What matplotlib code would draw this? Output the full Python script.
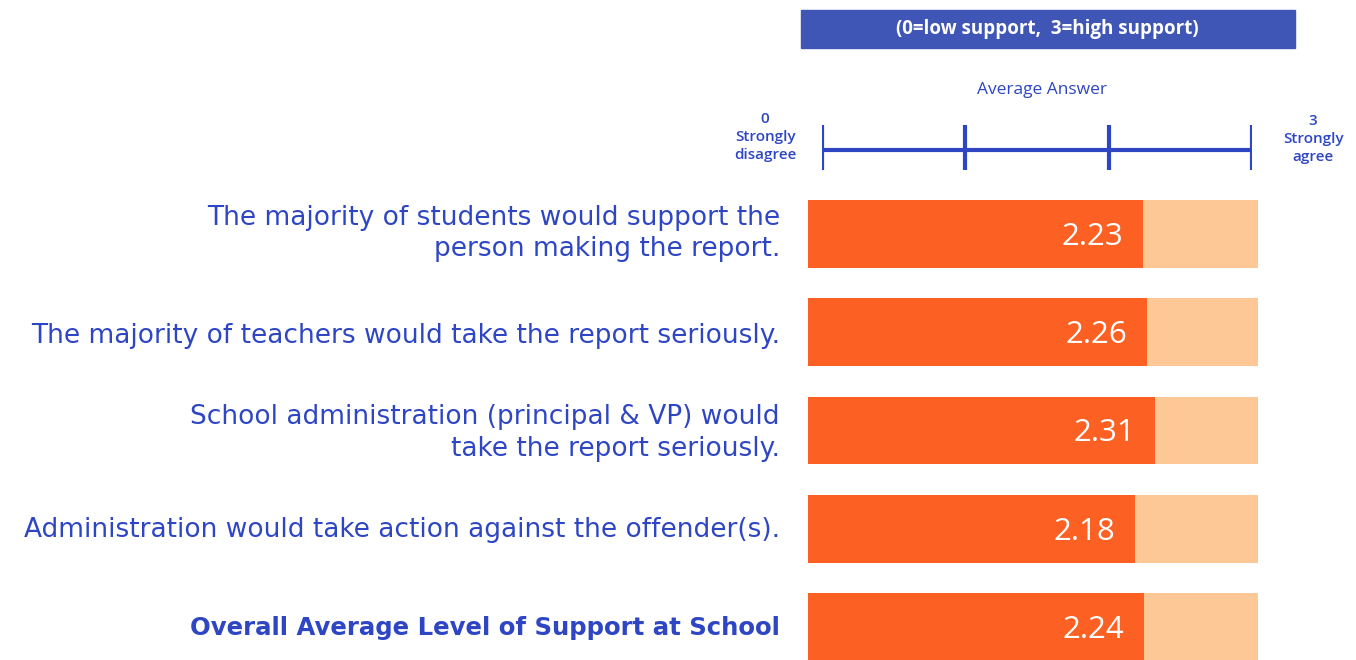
import matplotlib
matplotlib.use("Agg")
import matplotlib.pyplot as plt
from matplotlib.patches import Rectangle

plt.rcParams["font.family"] = ["Open Sans", "DejaVu Sans"]

W, H = 1356, 660
BLUE = "#2E46C4"
BOX_BLUE = "#4056B6"
DARK = "#FC6022"
LIGHT = "#FEC896"

statements = [
    "The majority of students would support the\nperson making the report.",
    "The majority of teachers would take the report seriously.",
    "School administration (principal & VP) would\ntake the report seriously.",
    "Administration would take action against the offender(s).",
    "Overall Average Level of Support at School",
]
averages = [2.23, 2.26, 2.31, 2.18, 2.24]
scale_max = 3
scale_ticks = [0, 1, 2, 3]


def fx(px):
    return px / W


def fy(py):
    return 1 - py / H


fig = plt.figure(figsize=(W / 100, H / 100), dpi=100)

# bars
ax = fig.add_axes([fx(808), 0, fx(1258) - fx(808), 476 / H])
ypos = list(range(len(averages)))
ax.barh(ypos, [scale_max] * len(averages), height=0.69, color=LIGHT)
ax.barh(ypos, averages, height=0.69, color=DARK)
for y, v in zip(ypos, averages):
    ax.text(v - 0.13, y + 0.03, f"{v:.2f}", ha="right", va="center",
            color="white", fontsize=22.5)
ax.set_xlim(0, scale_max)
ax.set_ylim(4.336, -0.509)
ax.axis("off")

# statement labels
label_y = [234, 336, 433, 530, 628]
for i, (txt, py) in enumerate(zip(statements, label_y)):
    bold = i == len(statements) - 1
    fig.text(fx(780), fy(py), txt, ha="right", va="center", color=BLUE,
             fontsize=19 if not bold else 17.6, family=["DejaVu Sans"],
             fontweight="bold" if bold else "normal", linespacing=1.25)

# scale axis
sax = fig.add_axes([fx(822), fy(175), fx(1252) - fx(822), 60 / H])
sax.set_xlim(0, scale_max)
sax.set_ylim(0, 60)
sax.plot([0, scale_max], [25, 25], color=BLUE, lw=3, solid_capstyle="butt")
for t in scale_ticks:
    sax.plot([t, t], [5, 50], color=BLUE, lw=3, solid_capstyle="butt")
sax.axis("off")

fig.text(fx(765), fy(137), "0\nStrongly\ndisagree", ha="center", va="center",
         color=BLUE, fontsize=11, fontweight="semibold", linespacing=1.35)
fig.text(fx(1313), fy(139), "3\nStrongly\nagree", ha="center", va="center",
         color=BLUE, fontsize=11, fontweight="semibold", linespacing=1.35)
fig.text(fx(1042), fy(90), "Average Answer", ha="center", va="center",
         color=BLUE, fontsize=12.5)

# header box
fig.patches.append(Rectangle((fx(801), fy(48)), fx(1295) - fx(801), 38 / H,
                             transform=fig.transFigure, color=BOX_BLUE))
fig.text(fx(1047), fy(29), "(0=low support,  3=high support)", ha="center",
         va="center", color="white", fontsize=13.5, fontweight="bold")

fig.savefig("out.png", dpi=100)
